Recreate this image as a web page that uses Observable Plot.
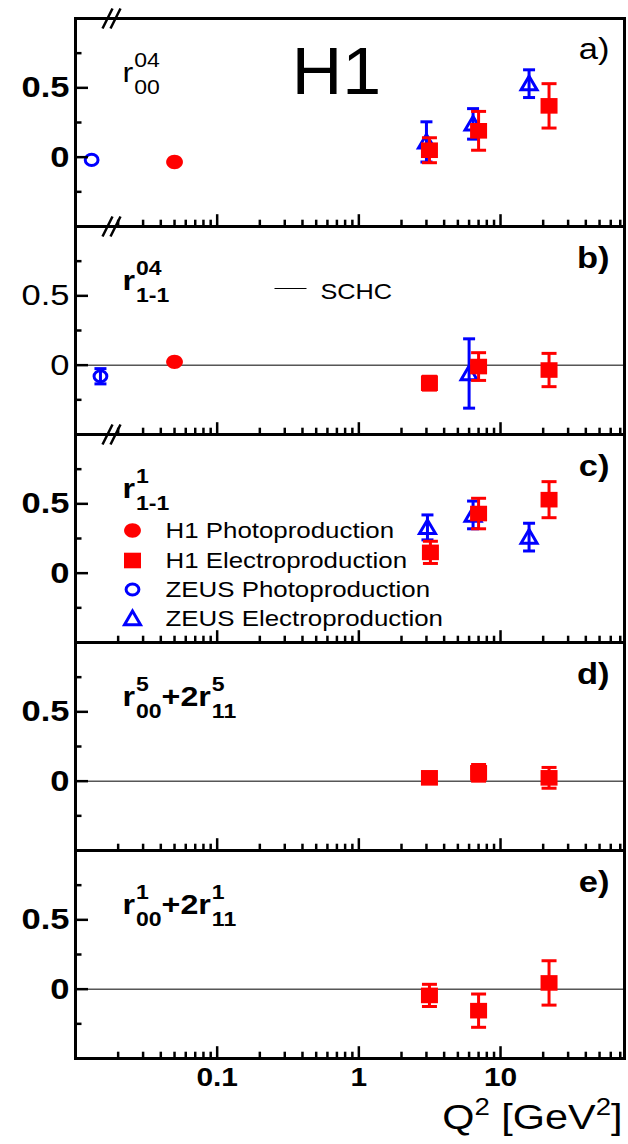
<!DOCTYPE html>
<html><head><meta charset="utf-8">
<script src="https://cdn.jsdelivr.net/npm/d3@7"></script>
<script src="https://cdn.jsdelivr.net/npm/@observablehq/plot@0.6"></script>
<style>
html,body{margin:0;padding:0;background:#fff;}
#chart{width:628px;height:1144px;}
</style></head><body><div id="chart"></div>
<script>
// ================= DATA =================
const panels = ["a", "b", "c", "d", "e"];
const panelTags = ["a)", "b)", "c)", "d)", "e)"];

// H1 photoproduction: Q2 [GeV2], value, error
const h1Photo = [
  {panel: "a", q2: 0.05, v: -0.035, e: 0},
  {panel: "b", q2: 0.05, v: 0.024, e: 0}
];
// H1 electroproduction
const h1Electro = [
  {panel: "a", q2: 3.15, v: 0.05, e: 0.09},
  {panel: "a", q2: 7.0, v: 0.19, e: 0.14},
  {panel: "a", q2: 22, v: 0.37, e: 0.16},
  {panel: "b", q2: 3.15, v: -0.13, e: 0.05},
  {panel: "b", q2: 7.0, v: -0.01, e: 0.10},
  {panel: "b", q2: 22, v: -0.035, e: 0.12},
  {panel: "c", q2: 3.2, v: 0.15, e: 0.08},
  {panel: "c", q2: 7.0, v: 0.43, e: 0.11},
  {panel: "c", q2: 22, v: 0.53, e: 0.13},
  {panel: "d", q2: 3.15, v: 0.024, e: 0.04},
  {panel: "d", q2: 7.0, v: 0.06, e: 0.06},
  {panel: "d", q2: 22, v: 0.024, e: 0.075},
  {panel: "e", q2: 3.15, v: -0.045, e: 0.08},
  {panel: "e", q2: 7.0, v: -0.155, e: 0.12},
  {panel: "e", q2: 22, v: 0.045, e: 0.16}
];
// ZEUS photoproduction
const zeusPhoto = [
  {panel: "a", q2: 0.013, v: -0.02, e: 0},
  {panel: "b", q2: 0.015, v: -0.08, e: 0.055}
];
// ZEUS electroproduction
const zeusElectro = [
  {panel: "a", q2: 3.0, v: 0.11, e: 0.145},
  {panel: "a", q2: 6.4, v: 0.24, e: 0.11},
  {panel: "a", q2: 15.9, v: 0.53, e: 0.10},
  {panel: "b", q2: 6.0, v: -0.06, e: 0.25},
  {panel: "c", q2: 3.05, v: 0.33, e: 0.09},
  {panel: "c", q2: 6.4, v: 0.42, e: 0.10},
  {panel: "c", q2: 15.9, v: 0.26, e: 0.10}
];
// SCHC expectation (zero) lines
const schcPanels = ["b", "d", "e"];
const schcValue = 0;

// axis ticks
const xMajorTicks = [0.1, 1, 10];
const xMinorTicks = [0.02,0.03,0.04,0.05,0.06,0.07,0.08,0.09,0.2,0.3,0.4,0.5,0.6,0.7,0.8,0.9,2,3,4,5,6,7,8,9,20,30,40,50,60,70];
const xTickLabels = ["0.1", "1", "10"];
const yMajorTicks = [0, 0.5];
const yMinorTicks = [-0.25, 0.25, 0.75];
const yTickLabels = ["0", "0.5"];

// panel quantity labels (base, subscript, superscript)
const quantityLabels = [
  {panel: "a", parts: [{base: "r", sub: "00", sup: "04"}]},
  {panel: "b", parts: [{base: "r", sub: "1-1", sup: "04"}]},
  {panel: "c", parts: [{base: "r", sub: "1-1", sup: "1"}]},
  {panel: "d", parts: [{base: "r", sub: "00", sup: "5"}, {base: "+2r", sub: "11", sup: "5"}]},
  {panel: "e", parts: [{base: "r", sub: "00", sup: "1"}, {base: "+2r", sub: "11", sup: "1"}]}
];
const legendLabels = ["H1 Photoproduction", "H1 Electroproduction", "ZEUS Photoproduction", "ZEUS Electroproduction"];
const schcLabel = "SCHC";
const experimentLabel = "H1";
const xAxisParts = [{t: "Q", sup: false}, {t: "2", sup: true}, {t: " [GeV", sup: false}, {t: "2", sup: true}, {t: "]", sup: false}];

// ================= LAYOUT / STYLE =================
const W = 628, H = 1144;
const mt = 17, mb = 86, ml = 75, mr = 4;
const facetH = (H - mt - mb) / panels.length;
const plotW = W - ml - mr;
const S = 1.15; // horizontal stretch of the reference
const RED = "#ff0000", BLUE = "#0000ff";
const FONT = "'Liberation Sans', Arial, Helvetica, sans-serif";

const cv = document.createElement("canvas").getContext("2d");
function tw(text, size, weight) {
  cv.font = `${weight} ${size}px "Liberation Sans"`;
  return cv.measureText(text).width * S;
}

function ellipse(ctx, rx, ry) {
  const k = 0.5523;
  ctx.moveTo(rx, 0);
  ctx.bezierCurveTo(rx, ry * k, rx * k, ry, 0, ry);
  ctx.bezierCurveTo(-rx * k, ry, -rx, ry * k, -rx, 0);
  ctx.bezierCurveTo(-rx, -ry * k, -rx * k, -ry, 0, -ry);
  ctx.bezierCurveTo(rx * k, -ry, rx, -ry * k, rx, 0);
  ctx.closePath();
}
const symH1Circle = {draw(ctx) { ellipse(ctx, 8.4, 7.2); }};
const symH1Square = {draw(ctx) { ctx.moveTo(-8.5, -7.8); ctx.lineTo(8.5, -7.8); ctx.lineTo(8.5, 7.8); ctx.lineTo(-8.5, 7.8); ctx.closePath(); }};
const symZeusCircle = {draw(ctx) { ellipse(ctx, 6.4, 5.6); }};
const symZeusTriangle = {draw(ctx) { ctx.moveTo(0, -7.5); ctx.lineTo(8, 6.2); ctx.lineTo(-8, 6.2); ctx.closePath(); }};
const capRed = {draw(ctx) { ctx.moveTo(-7.5, 0); ctx.lineTo(7.5, 0); }};
const capBlue = {draw(ctx) { ctx.moveTo(-6, 0); ctx.lineTo(6, 0); }};
const symBreak = {draw(ctx) { for (const o of [-4, 4]) { ctx.moveTo(o - 5, 10); ctx.lineTo(o + 5, -10); } }};
const symSchcLine = {draw(ctx) { ctx.moveTo(-16, 0); ctx.lineTo(16, 0); }};

function seriesMarks(data, color, symbol, cap, filled) {
  const withErr = data.filter(d => d.e > 0);
  return [
    Plot.ruleX(withErr, {fy: "panel", x: "q2", y1: d => d.v - d.e, y2: d => d.v + d.e, stroke: color, strokeWidth: 3}),
    Plot.dot(withErr, {fy: "panel", x: "q2", y: d => d.v + d.e, symbol: cap, stroke: color, strokeWidth: 3, fill: "none"}),
    Plot.dot(withErr, {fy: "panel", x: "q2", y: d => d.v - d.e, symbol: cap, stroke: color, strokeWidth: 3, fill: "none"}),
    filled
      ? Plot.dot(data, {fy: "panel", x: "q2", y: "v", symbol, fill: color, stroke: "none"})
      : Plot.dot(data, {fy: "panel", x: "q2", y: "v", symbol, fill: "none", stroke: color, strokeWidth: 3})
  ];
}

// quantity label pieces
const labelMarks = [];
for (const q of quantityLabels) {
  const weight = q.panel === "a" ? "normal" : "bold";
  let cursor = 47;
  for (const p of q.parts) {
    labelMarks.push(Plot.text([q], {fy: "panel", frameAnchor: "top-left", text: () => p.base, dx: cursor, dy: 63,
      fontSize: 28, fontWeight: weight, textAnchor: "start", lineAnchor: "bottom"}));
    cursor += tw(p.base, 28, weight) + 1;
    labelMarks.push(Plot.text([q], {fy: "panel", frameAnchor: "top-left", text: () => p.sup, dx: cursor, dy: 48,
      fontSize: 20, fontWeight: weight, textAnchor: "start", lineAnchor: "bottom"}));
    labelMarks.push(Plot.text([q], {fy: "panel", frameAnchor: "top-left", text: () => p.sub, dx: cursor, dy: 75,
      fontSize: 20, fontWeight: weight, textAnchor: "start", lineAnchor: "bottom"}));
    cursor += Math.max(tw(p.sub, 20, weight), tw(p.sup, 20, weight));
  }
}

// x axis title pieces (right aligned)
const xTitleMarks = [];
{
  const widths = xAxisParts.map(p => tw(p.t, p.sup ? 24 : 36, "normal"));
  const total = d3.sum(widths);
  let cursor = -2 - total;
  xAxisParts.forEach((p, i) => {
    xTitleMarks.push(Plot.text([{panel: "e"}], {fy: "panel", frameAnchor: "bottom-right", text: () => p.t,
      dx: cursor, dy: p.sup ? 56 : 70, fontSize: p.sup ? 24 : 36, textAnchor: "start", lineAnchor: "bottom"}));
    cursor += widths[i];
  });
}

const yLabelRows = panels.flatMap(p => yMajorTicks.map((v, i) => ({panel: p, v, label: yTickLabels[i]})));
const xLabelRows = xMajorTicks.map((q2, i) => ({panel: "e", q2, label: xTickLabels[i]}));
const tagRows = panels.map((p, i) => ({panel: p, tag: panelTags[i]}));
const zeroRows = schcPanels.map(p => ({panel: p, y: schcValue}));
const legendSymbols = [
  {sym: symH1Circle, fill: RED, stroke: "none", sw: 0},
  {sym: symH1Square, fill: RED, stroke: "none", sw: 0},
  {sym: symZeusCircle, fill: "none", stroke: BLUE, sw: 3},
  {sym: symZeusTriangle, fill: "none", stroke: BLUE, sw: 3}
];
const legendRowDy = [96, 126, 155, 184];
const legendMarks = legendLabels.flatMap((lab, i) => [
  Plot.dot([{panel: "c"}], {fy: "panel", frameAnchor: "top-left", dx: 57, dy: legendRowDy[i], symbol: legendSymbols[i].sym,
    fill: legendSymbols[i].fill, stroke: legendSymbols[i].stroke, strokeWidth: legendSymbols[i].sw}),
  Plot.text([{panel: "c"}], {fy: "panel", frameAnchor: "top-left", dx: 90, dy: legendRowDy[i], text: () => lab,
    fontSize: 22.5, textAnchor: "start", lineAnchor: "middle"})
]);

const chart = Plot.plot({
  width: W, height: H,
  marginTop: mt, marginBottom: mb, marginLeft: ml, marginRight: mr,
  style: {fontFamily: FONT, background: "white", overflow: "visible", color: "black"},
  x: {type: "log", domain: [0.01, 75], axis: null},
  y: {domain: [-0.5, 1.0], axis: null},
  fy: {domain: panels, padding: 0, axis: null, label: null},
  marks: [
    Plot.ruleY(zeroRows, {fy: "panel", y: "y", stroke: "black", strokeWidth: 1}),
    ...seriesMarks(zeusPhoto, BLUE, symZeusCircle, capBlue, false),
    ...seriesMarks(zeusElectro, BLUE, symZeusTriangle, capBlue, false),
    ...seriesMarks(h1Photo, RED, symH1Circle, capRed, true),
    ...seriesMarks(h1Electro, RED, symH1Square, capRed, true),
    Plot.ruleX(xMajorTicks, {insetTop: facetH - 12, stroke: "black", strokeWidth: 2.5}),
    Plot.ruleX(xMinorTicks, {insetTop: facetH - 6.5, stroke: "black", strokeWidth: 2.5}),
    Plot.ruleY(yMajorTicks, {insetRight: plotW - 13, stroke: "black", strokeWidth: 2.5}),
    Plot.ruleY(yMinorTicks, {insetRight: plotW - 6.5, stroke: "black", strokeWidth: 2.5}),
    Plot.frame({stroke: "black", strokeWidth: 3}),
    Plot.dot(["a", "b", "c"].map(p => ({panel: p})), {fy: "panel", frameAnchor: "top-left", dx: 36, symbol: symBreak, stroke: "black", strokeWidth: 2.5, fill: "none"}),
    Plot.text(yLabelRows.filter(d => d.panel !== "b"), {fy: "panel", y: "v", text: "label", frameAnchor: "left", textAnchor: "end", dx: -6, fontSize: 30, fontWeight: "bold"}),
    Plot.text(yLabelRows.filter(d => d.panel === "b"), {fy: "panel", y: "v", text: "label", frameAnchor: "left", textAnchor: "end", dx: -6, fontSize: 30, fontWeight: "normal"}),
    Plot.text(xLabelRows, {fy: "panel", x: "q2", text: "label", frameAnchor: "bottom", lineAnchor: "top", dy: 9, fontSize: 26, fontWeight: "bold"}),
    Plot.text(tagRows.filter(d => d.panel === "a"), {fy: "panel", frameAnchor: "top-right", text: "tag", dx: -15, dy: 40, textAnchor: "end", lineAnchor: "bottom", fontSize: 30}),
    Plot.text(tagRows.filter(d => d.panel !== "a"), {fy: "panel", frameAnchor: "top-right", text: "tag", dx: -15, dy: 41, textAnchor: "end", lineAnchor: "bottom", fontSize: 30, fontWeight: "bold"}),
    Plot.text([{panel: "a"}], {fy: "panel", frameAnchor: "top-left", text: () => experimentLabel, dx: 261, dy: 75, textAnchor: "middle", lineAnchor: "bottom", fontSize: 66}),
    Plot.dot([{panel: "b"}], {fy: "panel", frameAnchor: "top-left", dx: 215, dy: 62, symbol: symSchcLine, stroke: "black", strokeWidth: 1, fill: "none"}),
    Plot.text([{panel: "b"}], {fy: "panel", frameAnchor: "top-left", text: () => schcLabel, dx: 245, dy: 72, textAnchor: "start", lineAnchor: "bottom", fontSize: 22}),
    ...legendMarks,
    ...labelMarks,
    ...xTitleMarks
  ]
});

// apply the reference's horizontal stretch to every text element
chart.querySelectorAll("text").forEach(t => {
  let tr = t.getAttribute("transform") || "";
  if (t.hasAttribute("x")) {
    const x = +t.getAttribute("x") || 0;
    t.removeAttribute("x");
    tr += ` translate(${x},0)`;
  }
  const s = t.textContent === experimentLabel ? 1.06 : S;
  t.setAttribute("transform", tr + ` scale(${s},1)`);
  t.setAttribute("fill", "black");
});
document.getElementById("chart").appendChild(chart);
</script>
</body></html>
